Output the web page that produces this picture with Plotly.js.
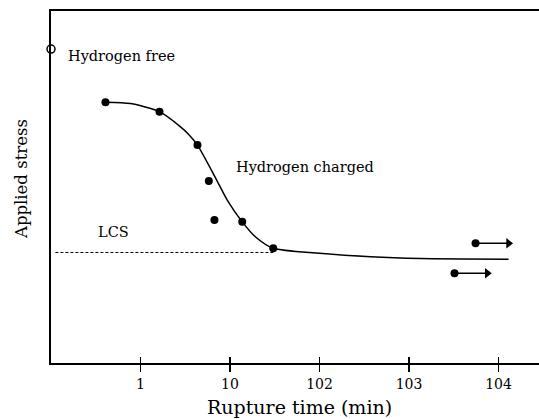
<!DOCTYPE html>
<html>
<head>
<meta charset="utf-8">
<script src="https://cdn.plot.ly/plotly-3.0.1.min.js"></script>
<style>html,body{margin:0;padding:0;background:#fff;}#chart{width:539px;height:419px;}</style>
</head>
<body>
<div id="chart"></div>
<script>
// Data (rupture time in min, applied stress in arbitrary units)
const freeTime = [0.1];
const freeStress = [89.2];

const chargedTime = [0.406, 1.63, 4.33, 5.8, 6.7, 13.7, 30.4];
const chargedStress = [74.1, 71.4, 61.9, 51.7, 40.6, 40.1, 32.6];

const curveTime = [0.406, 0.773, 1.63, 2.80, 3.44, 4.33, 7.19, 9.31, 13.7, 19.3, 30.4, 100, 371, 1343, 12940];
const curveStress = [74.1, 73.7, 71.4, 67.1, 65.0, 61.9, 51.7, 46.3, 40.1, 35.8, 32.6, 31.2, 30.2, 29.7, 29.5];

const lcsTime = [0.112, 30.4];
const lcsStress = [31.4, 31.4];

const runoutTime = [5534, 3223];
const runoutTipTime = [12940, 7480];
const runoutStress = [34.0, 25.5];

const tickVals = [1, 10, 100, 1000, 10000];
const tickText = ["1", "10", "102", "103", "104"];

const FONT = "DejaVu Serif";

// plot-area geometry helpers (pixels -> paper fractions)
const L = 51, T = 11, W = 488, H = 352;
const px = v => (v - L) / W;
const py = v => (T + H - v) / H;

const traces = [];
traces.push({
  x: curveTime, y: curveStress, mode: "lines", type: "scatter",
  line: {color: "#000", width: 1.5, shape: "spline", smoothing: 0.7},
  hoverinfo: "skip", showlegend: false
});
traces.push({
  x: lcsTime, y: lcsStress, mode: "lines", type: "scatter",
  line: {color: "#000", width: 1, dash: "3px,2px"},
  showlegend: false
});
traces.push({
  x: chargedTime, y: chargedStress, mode: "markers", type: "scatter",
  marker: {color: "#000", size: 8, opacity: 1, line: {width: 0}},
  showlegend: false
});
for (let i = 0; i < runoutTime.length; i++) {
  traces.push({
    x: [runoutTime[i], runoutTipTime[i]], y: [runoutStress[i], runoutStress[i]],
    mode: "lines", type: "scatter", cliponaxis: false,
    line: {color: "#000", width: 1.5},
    showlegend: false
  });
  traces.push({
    x: [runoutTime[i]], y: [runoutStress[i]],
    mode: "markers", type: "scatter", cliponaxis: false,
    marker: {color: "#000", size: 8, symbol: "circle", opacity: 1, line: {width: 0}},
    showlegend: false
  });
  traces.push({
    x: [runoutTipTime[i]], y: [runoutStress[i]],
    mode: "markers", type: "scatter", cliponaxis: false,
    marker: {color: "#000", size: 9, symbol: "triangle-right", opacity: 1, line: {width: 0}},
    showlegend: false
  });
}
traces.push({
  x: freeTime, y: freeStress, mode: "markers", type: "scatter", cliponaxis: false,
  marker: {color: "#fff", size: 8, symbol: "circle", opacity: 1, line: {color: "#000", width: 1.5}},
  showlegend: false
});
// dummy trace for inner tick axis
traces.push({x: [1], y: [0], xaxis: "x2", mode: "markers", marker: {opacity: 0}, showlegend: false, hoverinfo: "skip"});

const layout = {
  width: 539, height: 419,
  margin: {l: L, r: 0, t: T, b: 56},
  paper_bgcolor: "#fff", plot_bgcolor: "#fff",
  font: {family: FONT, color: "#000", size: 14},
  showlegend: false,
  xaxis: {
    type: "log", range: [-1.0, 4.452],
    showline: true, linecolor: "#000", linewidth: 2, mirror: true,
    showgrid: false, zeroline: false,
    tickmode: "array", tickvals: tickVals, ticktext: tickText,
    ticks: "outside", ticklen: 7, tickwidth: 1.5, tickcolor: "#000",
    tickfont: {family: FONT, size: 14}
  },
  xaxis2: {
    type: "log", range: [-1.0, 4.452], overlaying: "x", side: "bottom",
    showline: false, showgrid: false, zeroline: false,
    tickmode: "array", tickvals: tickVals, showticklabels: false,
    ticks: "inside", ticklen: 6, tickwidth: 1.5, tickcolor: "#000"
  },
  yaxis: {
    range: [0, 100],
    showline: true, linecolor: "#000", linewidth: 2, mirror: false,
    showgrid: false, zeroline: false, showticklabels: false, ticks: ""
  },
  annotations: [
    {text: "Rupture time (min)", x: px(299.5), y: py(407), xref: "paper", yref: "paper", xanchor: "center", yanchor: "middle", showarrow: false, font: {family: FONT, size: 19}},
    {text: "Applied stress", x: px(21), y: py(179), xref: "paper", yref: "paper", xanchor: "center", yanchor: "middle", textangle: -90, showarrow: false, font: {family: FONT, size: 16.5}},
    {text: "Hydrogen free", x: Math.log10(0.153), y: 87.2, xref: "x", yref: "y", xanchor: "left", yanchor: "middle", xshift: -2, showarrow: false, font: {family: FONT, size: 14.5}},
    {text: "Hydrogen charged", x: Math.log10(11.8), y: 55.7, xref: "x", yref: "y", xanchor: "left", yanchor: "middle", xshift: -2, showarrow: false, font: {family: FONT, size: 14.5}},
    {text: "LCS", x: Math.log10(0.331), y: 37.2, xref: "x", yref: "y", xanchor: "left", yanchor: "middle", xshift: -2, showarrow: false, font: {family: FONT, size: 14.5}}
  ]
};

Plotly.newPlot("chart", traces, layout, {staticPlot: true, displayModeBar: false});
</script>
</body>
</html>
